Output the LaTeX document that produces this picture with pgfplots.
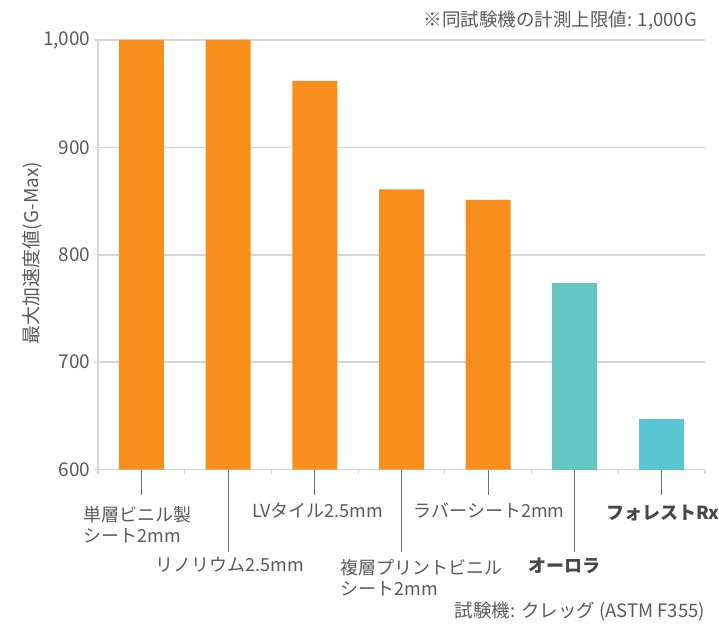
\documentclass[border=0pt]{standalone}
\usepackage{fontspec}
\setmainfont{Noto Sans CJK JP}
\usepackage{pgfplots}
\pgfplotsset{compat=1.18}
\usepackage{pgfplotstable}
\definecolor{barorange}{HTML}{F78E1E}
\definecolor{tealA}{HTML}{63C6C3}
\definecolor{tealB}{HTML}{5AC6D3}
\definecolor{gridgray}{HTML}{D6D6D6}
\definecolor{txtgray}{HTML}{5A5A5A}
\definecolor{leadgray}{HTML}{707070}

\pgfplotstableread{
x y
0 1000
1 1000
2 962
3 861
4 851
}\orangedata
\pgfplotstableread{
x y
5 774
}\auroradata
\pgfplotstableread{
x y
6 647
}\forestdata

\begin{document}
\begin{tikzpicture}
\useasboundingbox (-98pt,-159.5pt) rectangle (621pt,469.5pt);
\begin{axis}[
  scale only axis,
  width=607pt, height=429.5pt,
  xmin=-0.5, xmax=6.5,
  ymin=600, ymax=1000,
  clip=false,
  axis x line*=bottom, axis y line*=left,
  axis line style={gridgray, line width=1.5pt},
  ytick={600,700,800,900,1000},
  xtick={-0.5,0.5,...,6.5},
  xticklabels={},
  tick align=outside,
  major tick length=4pt,
  tick style={gridgray, line width=1.2pt},
  ymajorgrids,
  grid style={gridgray, line width=1.5pt},
  yticklabel style={font=\fontsize{19}{22}\selectfont, text=txtgray},
  /pgf/number format/assume math mode=true,
  /pgf/number format/1000 sep={,},
]
\addplot[ybar, bar width=45pt, bar shift=0pt, fill=barorange, draw=none] table[x=x,y=y] {\orangedata};
\addplot[ybar, bar width=45pt, bar shift=0pt, fill=tealA, draw=none] table[x=x,y=y] {\auroradata};
\addplot[ybar, bar width=45pt, bar shift=0pt, fill=tealB, draw=none] table[x=x,y=y] {\forestdata};

% leader lines
\tikzset{lead/.style={leadgray, line width=1.1pt}}
\draw[lead] (axis cs:0,600) -- ([yshift=-25pt]axis cs:0,600);
\draw[lead] (axis cs:1,600) -- ([yshift=-82pt]axis cs:1,600);
\draw[lead] (axis cs:2,600) -- ([yshift=-25pt]axis cs:2,600);
\draw[lead] (axis cs:3,600) -- ([yshift=-82pt]axis cs:3,600);
\draw[lead] (axis cs:4,600) -- ([yshift=-25pt]axis cs:4,600);
\draw[lead] (axis cs:5,600) -- ([yshift=-82pt]axis cs:5,600);
\draw[lead] (axis cs:6,600) -- ([yshift=-25pt]axis cs:6,600);

\tikzset{lab/.style={text=txtgray, inner sep=0pt, font=\fontsize{18}{21}\selectfont}}
\node[lab, anchor=base west] at ([xshift=-58pt, yshift=-51.5pt]axis cs:0,600) {単層ビニル製};
\node[lab, anchor=base west] at ([xshift=-58pt, yshift=-72.5pt]axis cs:0,600) {シート2mm};
\node[lab, anchor=base] at ([xshift=2pt, yshift=-101.5pt]axis cs:1,600) {リノリウム2.5mm};
\node[lab, anchor=base] at ([xshift=3pt, yshift=-47.5pt]axis cs:2,600) {LVタイル2.5mm};
\node[lab, anchor=base west] at ([xshift=-61pt, yshift=-104.5pt]axis cs:3,600) {複層プリントビニル};
\node[lab, anchor=base west] at ([xshift=-61pt, yshift=-125.5pt]axis cs:3,600) {シート2mm};
\node[lab, anchor=base] at ([xshift=1pt, yshift=-47.5pt]axis cs:4,600) {ラバーシート2mm};
\node[lab, anchor=base, font=\fontsize{18}{21}\selectfont\bfseries, text=black!72] at ([xshift=-10pt, yshift=-102.5pt]axis cs:5,600) {オーロラ};
\node[lab, anchor=base, font=\fontsize{18}{21}\selectfont\bfseries, text=black!72] at ([xshift=1pt, yshift=-49.5pt]axis cs:6,600) {フォレストRx};
\end{axis}
\node[rotate=90, text=txtgray, inner sep=0pt, font=\fontsize{19}{22}\selectfont] at (-66pt,216.5pt) {最大加速度値(G-Max)};
\node[anchor=east, text=txtgray, inner sep=0pt, font=\fontsize{18.5}{22}\selectfont] at (599pt,449.5pt) {※同試験機の計測上限値: 1,000G};
\node[anchor=east, text=txtgray, inner sep=0pt, font=\fontsize{18.5}{22}\selectfont] at (607pt,-142.5pt) {試験機: クレッグ (ASTM F355)};
\end{tikzpicture}
\end{document}
